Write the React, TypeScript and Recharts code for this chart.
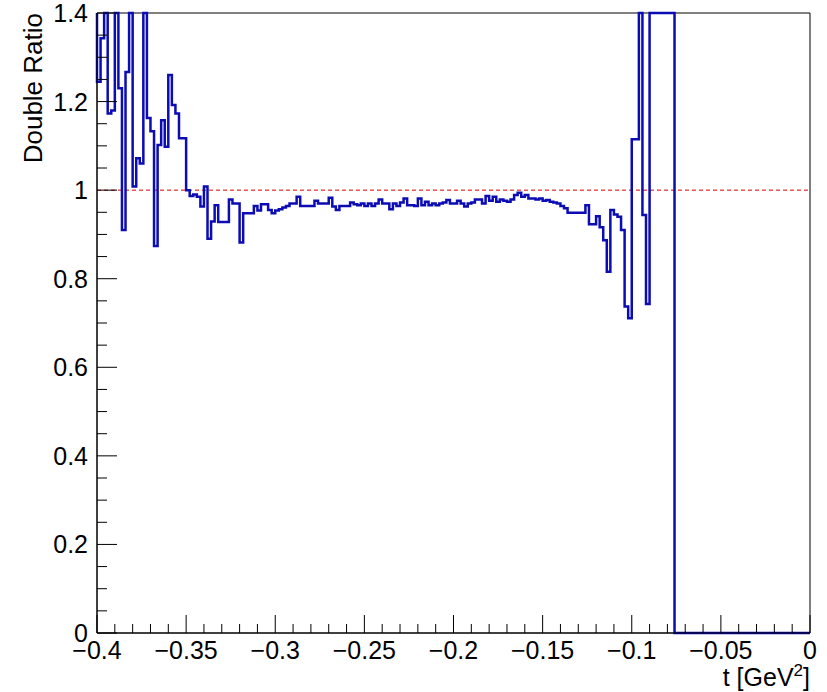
import React from 'react';
import {
  LineChart,
  Line,
  XAxis,
  YAxis,
  ReferenceLine,
  ReferenceArea,
} from 'recharts';

// histogram range and binning
const T_MIN = -0.4;
const T_MAX = 0;
const BIN_WIDTH = 0.002;

// bin just left of the visible range, off scale (drawn at the frame top)
const UNDERFLOW = 1.4;

// bins 0-29 (t = -0.400 ... -0.342)
const binsLeft = [
  1.245, 1.343, 1.4, 1.173, 1.18, 1.4, 1.23, 0.91, 1.267, 1.4,
  1.008, 1.072, 1.06, 1.4, 1.163, 1.133, 0.874, 1.102, 1.158, 1.098,
  1.26, 1.192, 1.173, 1.117, 1.117, 1.0, 0.987, 0.99, 0.985, 0.963,
];

// bins 30-89
const binsPlateau = [
  1.008, 0.89, 0.929, 0.966, 0.928, 0.928, 0.928, 0.979, 0.97, 0.97,
  0.882, 0.948, 0.948, 0.948, 0.964, 0.954, 0.968, 0.968, 0.955, 0.948,
  0.954, 0.957, 0.961, 0.964, 0.97, 0.97, 0.985, 0.964, 0.964, 0.964,
  0.964, 0.976, 0.97, 0.97, 0.97, 0.983, 0.963, 0.955, 0.964, 0.964,
  0.964, 0.972, 0.968, 0.966, 0.97, 0.964, 0.97, 0.964, 0.97, 0.979,
  0.97, 0.97, 0.957, 0.97, 0.964, 0.972, 0.981, 0.966, 0.966, 0.964,
];

// bins 90-129
const binsRise = [
  0.981, 0.966, 0.974, 0.966, 0.97, 0.966, 0.97, 0.972, 0.978, 0.97,
  0.97, 0.976, 0.97, 0.963, 0.97, 0.972, 0.979, 0.979, 0.97, 0.987,
  0.976, 0.985, 0.974, 0.979, 0.976, 0.974, 0.979, 0.989, 0.994, 0.985,
  0.989, 0.981, 0.981, 0.979, 0.981, 0.976, 0.978, 0.974, 0.972, 0.97,
];

// bins 130-161, last filled bin ends near t = -0.076
const binsEdge = [
  0.964, 0.959, 0.949, 0.949, 0.949, 0.949, 0.949, 0.966, 0.923, 0.923,
  0.941, 0.916, 0.887, 0.816, 0.955, 0.945, 0.94, 0.91, 0.737, 0.711,
  1.115, 1.115, 1.4, 0.944, 0.743, 1.4, 1.4, 1.4, 1.4, 1.4, 1.4, 1.4,
];

// everything after that is empty
const binsEmpty = [0];

const X_MAJOR = [-0.4, -0.35, -0.3, -0.25, -0.2, -0.15, -0.1, -0.05, 0];
const X_MINOR_DIV = 5;
const Y_MAJOR = [0, 0.2, 0.4, 0.6, 0.8, 1, 1.2, 1.4];
const Y_MINOR_DIV = 4;

const FONT = "'Liberation Sans', Arial, Helvetica, sans-serif";
const HIST_COLOR = '#0c0cb4';

const values = [...binsLeft, ...binsPlateau, ...binsRise, ...binsEdge, ...binsEmpty];
const data = [
  { t: T_MIN, r: UNDERFLOW },
  ...values.map((r, i) => ({ t: Number((T_MIN + i * BIN_WIDTH).toFixed(4)), r })),
  { t: T_MAX, r: 0 },
];

function buildTicks(major: number[], div: number) {
  const out: number[] = [];
  for (let i = 0; i < major.length - 1; i++) {
    for (let k = 0; k < div; k++) {
      out.push(Number((major[i] + ((major[i + 1] - major[i]) * k) / div).toFixed(4)));
    }
  }
  out.push(major[major.length - 1]);
  return out;
}

const xTicks = buildTicks(X_MAJOR, X_MINOR_DIV);
const yTicks = buildTicks(Y_MAJOR, Y_MINOR_DIV);

const isMajor = (v: number, major: number[]) => major.some((m) => Math.abs(m - v) < 1e-6);
const fmt = (v: number) => String(v).replace('-', '\u2212');

const XTick = (props: any) => {
  const { x, y, payload } = props;
  const major = isMajor(payload.value, X_MAJOR);
  return (
    <g>
      <line x1={x} x2={x} y1={y} y2={y - (major ? 18 : 9)} stroke="#000" />
      {major && (
        <text x={x} y={y + 26} textAnchor="middle" fontSize={25} fontFamily={FONT} fill="#000">
          {fmt(payload.value)}
        </text>
      )}
    </g>
  );
};

const YTick = (props: any) => {
  const { x, y, payload } = props;
  const major = isMajor(payload.value, Y_MAJOR);
  return (
    <g>
      <line x1={x} x2={x + (major ? 20 : 10)} y1={y} y2={y} stroke="#000" />
      {major && (
        <text x={x - 9} y={y + 9} textAnchor="end" fontSize={25} fontFamily={FONT} fill="#000">
          {fmt(payload.value)}
        </text>
      )}
    </g>
  );
};

const XTitle = (props: any) => {
  const vb = props.viewBox;
  return (
    <text x={vb.x + vb.width} y={vb.y + 53} textAnchor="end" fontSize={25} fontFamily={FONT} fill="#000">
      t [GeV
      <tspan fontSize={17} dy={-10}>2</tspan>
      <tspan dy={10}>]</tspan>
    </text>
  );
};

const YTitle = (props: any) => {
  const vb = props.viewBox;
  const x = vb.x + 5;
  const y = vb.y;
  return (
    <text x={x} y={y} transform={`rotate(-90, ${x}, ${y})`} textAnchor="end" fontSize={26} fontFamily={FONT} fill="#000">
      Double Ratio
    </text>
  );
};

export default function App() {
  return (
    <div style={{ position: 'absolute', left: 0, top: 0, background: '#fff' }}>
      <LineChart width={827} height={692} data={data} margin={{ top: 13, right: 17, bottom: 29, left: 37 }}>
        <XAxis
          dataKey="t"
          type="number"
          domain={[T_MIN, T_MAX]}
          ticks={xTicks}
          interval={0}
          tickLine={false}
          tickSize={0}
          tickMargin={0}
          axisLine={{ stroke: '#000' }}
          tick={XTick}
          height={30}
          label={XTitle}
        />
        <YAxis
          type="number"
          domain={[0, 1.4]}
          ticks={yTicks}
          interval={0}
          tickLine={false}
          tickSize={0}
          tickMargin={0}
          axisLine={{ stroke: '#000' }}
          tick={YTick}
          width={60}
          label={YTitle}
        />
        <ReferenceArea x1={T_MIN} x2={T_MAX} y1={0} y2={1.4} fill="none" stroke="#000" strokeWidth={1} />
        <ReferenceLine y={1} stroke="#dd0000" strokeDasharray="4 3" />
        <Line
          type="stepAfter"
          dataKey="r"
          stroke={HIST_COLOR}
          strokeWidth={2.5}
          dot={false}
          isAnimationActive={false}
        />
      </LineChart>
    </div>
  );
}
